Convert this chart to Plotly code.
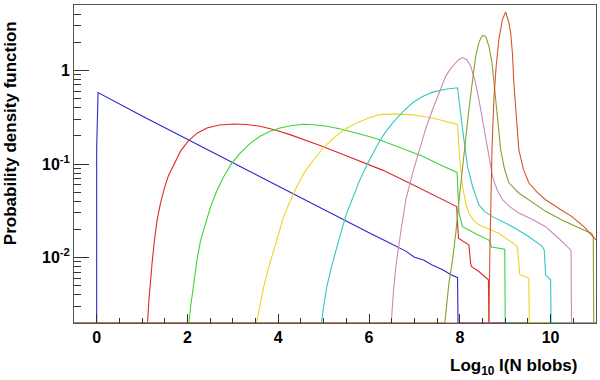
import numpy as np
import plotly.graph_objects as go

# pdf of log10 I for sums of N blobs
blue_x = [-0.5, 0.0, 0.0, 0.03, 1.0, 2.0, 3.0, 4.0, 5.0, 5.5, 6.0, 6.4, 6.8, 7.0, 7.2, 7.4, 7.6, 7.8, 7.95, 7.96, 11.0]
blue_y = [0, 0, 0.15, 0.58, 0.326, 0.183, 0.103, 0.058, 0.0326, 0.0247, 0.0184, 0.0148, 0.0118, 0.0101, 0.0094, 0.0083, 0.0075, 0.0066, 0.0061, 0, 0]

red_x = [-0.5, 1.12, 1.15, 1.18, 1.22, 1.27, 1.33, 1.40, 1.48, 1.58, 1.70, 1.85, 2.03, 2.22, 2.43, 2.70, 3.02,
         3.30, 3.60, 3.93, 4.26, 4.60, 4.92, 5.40, 5.87, 6.31, 7.0, 7.5, 7.93, 7.97, 8.20, 8.24, 8.26, 8.42, 8.63, 8.64, 11.0]
red_y = [0, 0, 0.0035, 0.0058, 0.0087, 0.015, 0.025, 0.037, 0.053, 0.075, 0.10, 0.138, 0.179, 0.215, 0.243, 0.261, 0.268,
         0.264, 0.253, 0.231, 0.206, 0.18, 0.158, 0.128, 0.103, 0.0855, 0.059, 0.045, 0.0351, 0.0161, 0.0136, 0.0085, 0.0080, 0.0071, 0.0058, 0, 0]

green_x = [-0.5, 1.99, 2.03, 2.07, 2.14, 2.21, 2.29, 2.40, 2.51, 2.65, 2.80, 2.97, 3.16, 3.38, 3.60, 3.82, 4.04, 4.30,
           4.56, 4.80, 5.07, 5.40, 5.73, 6.0, 6.23, 6.7, 7.18, 7.55, 7.94, 7.98, 8.06, 8.35, 8.64, 8.70, 8.92, 8.99, 9.0, 11.0]
green_y = [0, 0, 0.0018, 0.003, 0.0057, 0.0095, 0.0154, 0.024, 0.035, 0.052, 0.0736, 0.101, 0.131, 0.166, 0.198, 0.224, 0.243, 0.258,
           0.266, 0.263, 0.253, 0.235, 0.215, 0.197, 0.182, 0.148, 0.121, 0.099, 0.0813, 0.030, 0.0214, 0.018, 0.0154, 0.013, 0.0126, 0.0123, 0, 0]

yellow_x = [-0.5, 3.52, 3.58, 3.68, 3.78, 3.90, 4.0, 4.12, 4.26, 4.41, 4.58, 4.78, 5.0, 5.22, 5.47, 5.73, 5.98, 6.23, 6.59,
            6.9, 7.18, 7.55, 7.95, 7.97, 8.0, 8.06, 8.13, 8.20, 8.30, 8.42, 8.86, 9.23, 9.27, 9.32, 9.52, 9.53, 11.0]
yellow_y = [0, 0, 0.0028, 0.0049, 0.0076, 0.012, 0.018, 0.0274, 0.040, 0.0575, 0.082, 0.111, 0.150, 0.19, 0.235, 0.275, 0.309, 0.337, 0.343,
            0.337, 0.324, 0.297, 0.264, 0.17, 0.11, 0.0575, 0.038, 0.0298, 0.025, 0.0224, 0.0182, 0.0136, 0.0128, 0.0066, 0.006, 0, 0]

cyan_x = [-0.5, 4.95, 5.0, 5.07, 5.18, 5.29, 5.40, 5.51, 5.65, 5.80, 5.95, 6.09, 6.23, 6.37, 6.52, 6.74, 6.96, 7.18, 7.40, 7.68,
          7.95, 7.98, 8.03, 8.09, 8.17, 8.28, 8.42, 8.55, 8.72, 9.16, 9.50, 9.82, 9.86, 9.89, 10.0, 10.01, 11.0]
cyan_y = [0, 0, 0.003, 0.0049, 0.0082, 0.0131, 0.020, 0.030, 0.045, 0.068, 0.097, 0.131, 0.175, 0.222, 0.275, 0.36, 0.451, 0.525, 0.586, 0.63,
          0.652, 0.49, 0.30, 0.182, 0.094, 0.0575, 0.0366, 0.031, 0.0274, 0.0214, 0.017, 0.0131, 0.0120, 0.0065, 0.0058, 0, 0]

pink_x = [-0.5, 6.49, 6.54, 6.59, 6.70, 6.81, 6.96, 7.11, 7.25, 7.40, 7.55, 7.69, 7.80, 7.91, 7.98, 8.06, 8.15, 8.24, 8.33,
          8.42, 8.50, 8.57, 8.65, 8.72, 8.82, 8.94, 9.10, 9.30, 9.60, 9.89, 10.15, 10.40, 10.45, 10.46, 11.0]
pink_y = [0, 0, 0.0045, 0.008, 0.019, 0.0415, 0.08, 0.142, 0.24, 0.382, 0.59, 0.869, 1.05, 1.21, 1.31, 1.37, 1.30, 1.11, 0.79,
          0.49, 0.29, 0.182, 0.11, 0.0736, 0.053, 0.0415, 0.035, 0.030, 0.0255, 0.0214, 0.0165, 0.0126, 0.0120, 0, 0]

olive_x = [-0.5, 7.67, 7.72, 7.76, 7.84, 7.91, 7.98, 8.06, 8.13, 8.20, 8.28, 8.35, 8.42, 8.47, 8.51, 8.55, 8.58, 8.64, 8.71,
           8.75, 8.79, 8.84, 8.90, 8.98, 9.08, 9.30, 9.52, 9.90, 10.26, 10.60, 10.91, 10.94, 10.95, 11.0]
olive_y = [0, 0, 0.0035, 0.0053, 0.0095, 0.018, 0.04, 0.094, 0.19, 0.382, 0.78, 1.42, 1.98, 2.25, 2.37, 2.33, 2.24, 1.82, 1.2,
           0.78, 0.49, 0.26, 0.142, 0.09, 0.063, 0.049, 0.0415, 0.031, 0.025, 0.021, 0.018, 0.0165, 0, 0]

orange_x = [-0.5, 8.64, 8.66, 8.68, 8.71, 8.75, 8.80, 8.86, 8.94, 9.01, 9.08, 9.12, 9.16, 9.19, 9.24, 9.30, 9.40, 9.52,
            9.70, 9.89, 10.20, 10.47, 10.75, 11.0]
orange_y = [0, 0, 0.01, 0.041, 0.15, 0.49, 1.1, 2.15, 3.52, 4.22, 3.24, 2.54, 1.5, 0.738, 0.33, 0.142, 0.088, 0.063,
            0.05, 0.0415, 0.033, 0.0274, 0.021, 0.0155]

YMIN, YMAX = 0.002, 5.0

series = [
    (blue_x, blue_y, "#2828cc"),
    (red_x, red_y, "#e02828"),
    (green_x, green_y, "#3ed23e"),
    (yellow_x, yellow_y, "#f2d02a"),
    (cyan_x, cyan_y, "#30c8c8"),
    (pink_x, pink_y, "#cc88bb"),
    (olive_x, olive_y, "#88a030"),
    (orange_x, orange_y, "#d4552a"),
]

fig = go.Figure()
for xs, ys, col in series:
    # empty bins sit on the bottom of the frame, like ROOT does on a log axis
    yy = [max(v, YMIN) for v in ys]
    fig.add_trace(go.Scatter(x=xs, y=yy, mode="lines",
                             line=dict(color=col, width=1.1), showlegend=False))

font = dict(family="Liberation Sans, Arial, sans-serif", size=16, color="black", weight="bold")

minor_y = [k * 10.0 ** e for e in range(-3, 1) for k in range(2, 10)]
minor_y = [v for v in minor_y if YMIN < v < YMAX]

fig.update_xaxes(range=[-0.5, 11], dtick=2, tick0=0, ticks="inside", ticklen=9,
                 tickcolor="#333", tickfont=font, showgrid=False, zeroline=False,
                 showline=True, linecolor="#555", linewidth=1, mirror=True,
                 minor=dict(dtick=0.5, tick0=0, ticks="inside", ticklen=5, tickcolor="#333"))
fig.update_yaxes(type="log", range=[np.log10(YMIN), np.log10(YMAX)],
                 tickvals=[0.01, 0.1, 1], ticktext=["10<sup>-2</sup>", "10<sup>-1</sup>", "1"],
                 ticks="inside", ticklen=15, tickcolor="#333", tickfont=font,
                 showgrid=False, zeroline=False,
                 showline=True, linecolor="#555", linewidth=1, mirror=True,
                 minor=dict(tickvals=minor_y, ticks="inside", ticklen=7, tickcolor="#333"))

title_font = dict(family="Liberation Sans, Arial, sans-serif", size=17, color="black", weight="bold")
fig.add_annotation(text="Probability density function", textangle=-90,
                   xref="paper", yref="paper", x=-0.1226, y=0.597,
                   xanchor="center", yanchor="middle", showarrow=False, font=title_font)
fig.add_annotation(text="Log<sub>10</sub> I(N blobs)",
                   xref="paper", yref="paper", x=0.969, y=-0.0975,
                   xanchor="right", yanchor="top", showarrow=False, font=title_font)

fig.update_layout(width=600, height=380, margin=dict(l=74, r=4, t=5, b=57),
                  plot_bgcolor="white", paper_bgcolor="white", hovermode=False)

# drop the page's default body margin so the figure sits at the window corner
fig.write_html("out.html", config={"displayModeBar": False},
               post_script="document.body.style.margin='0';")
